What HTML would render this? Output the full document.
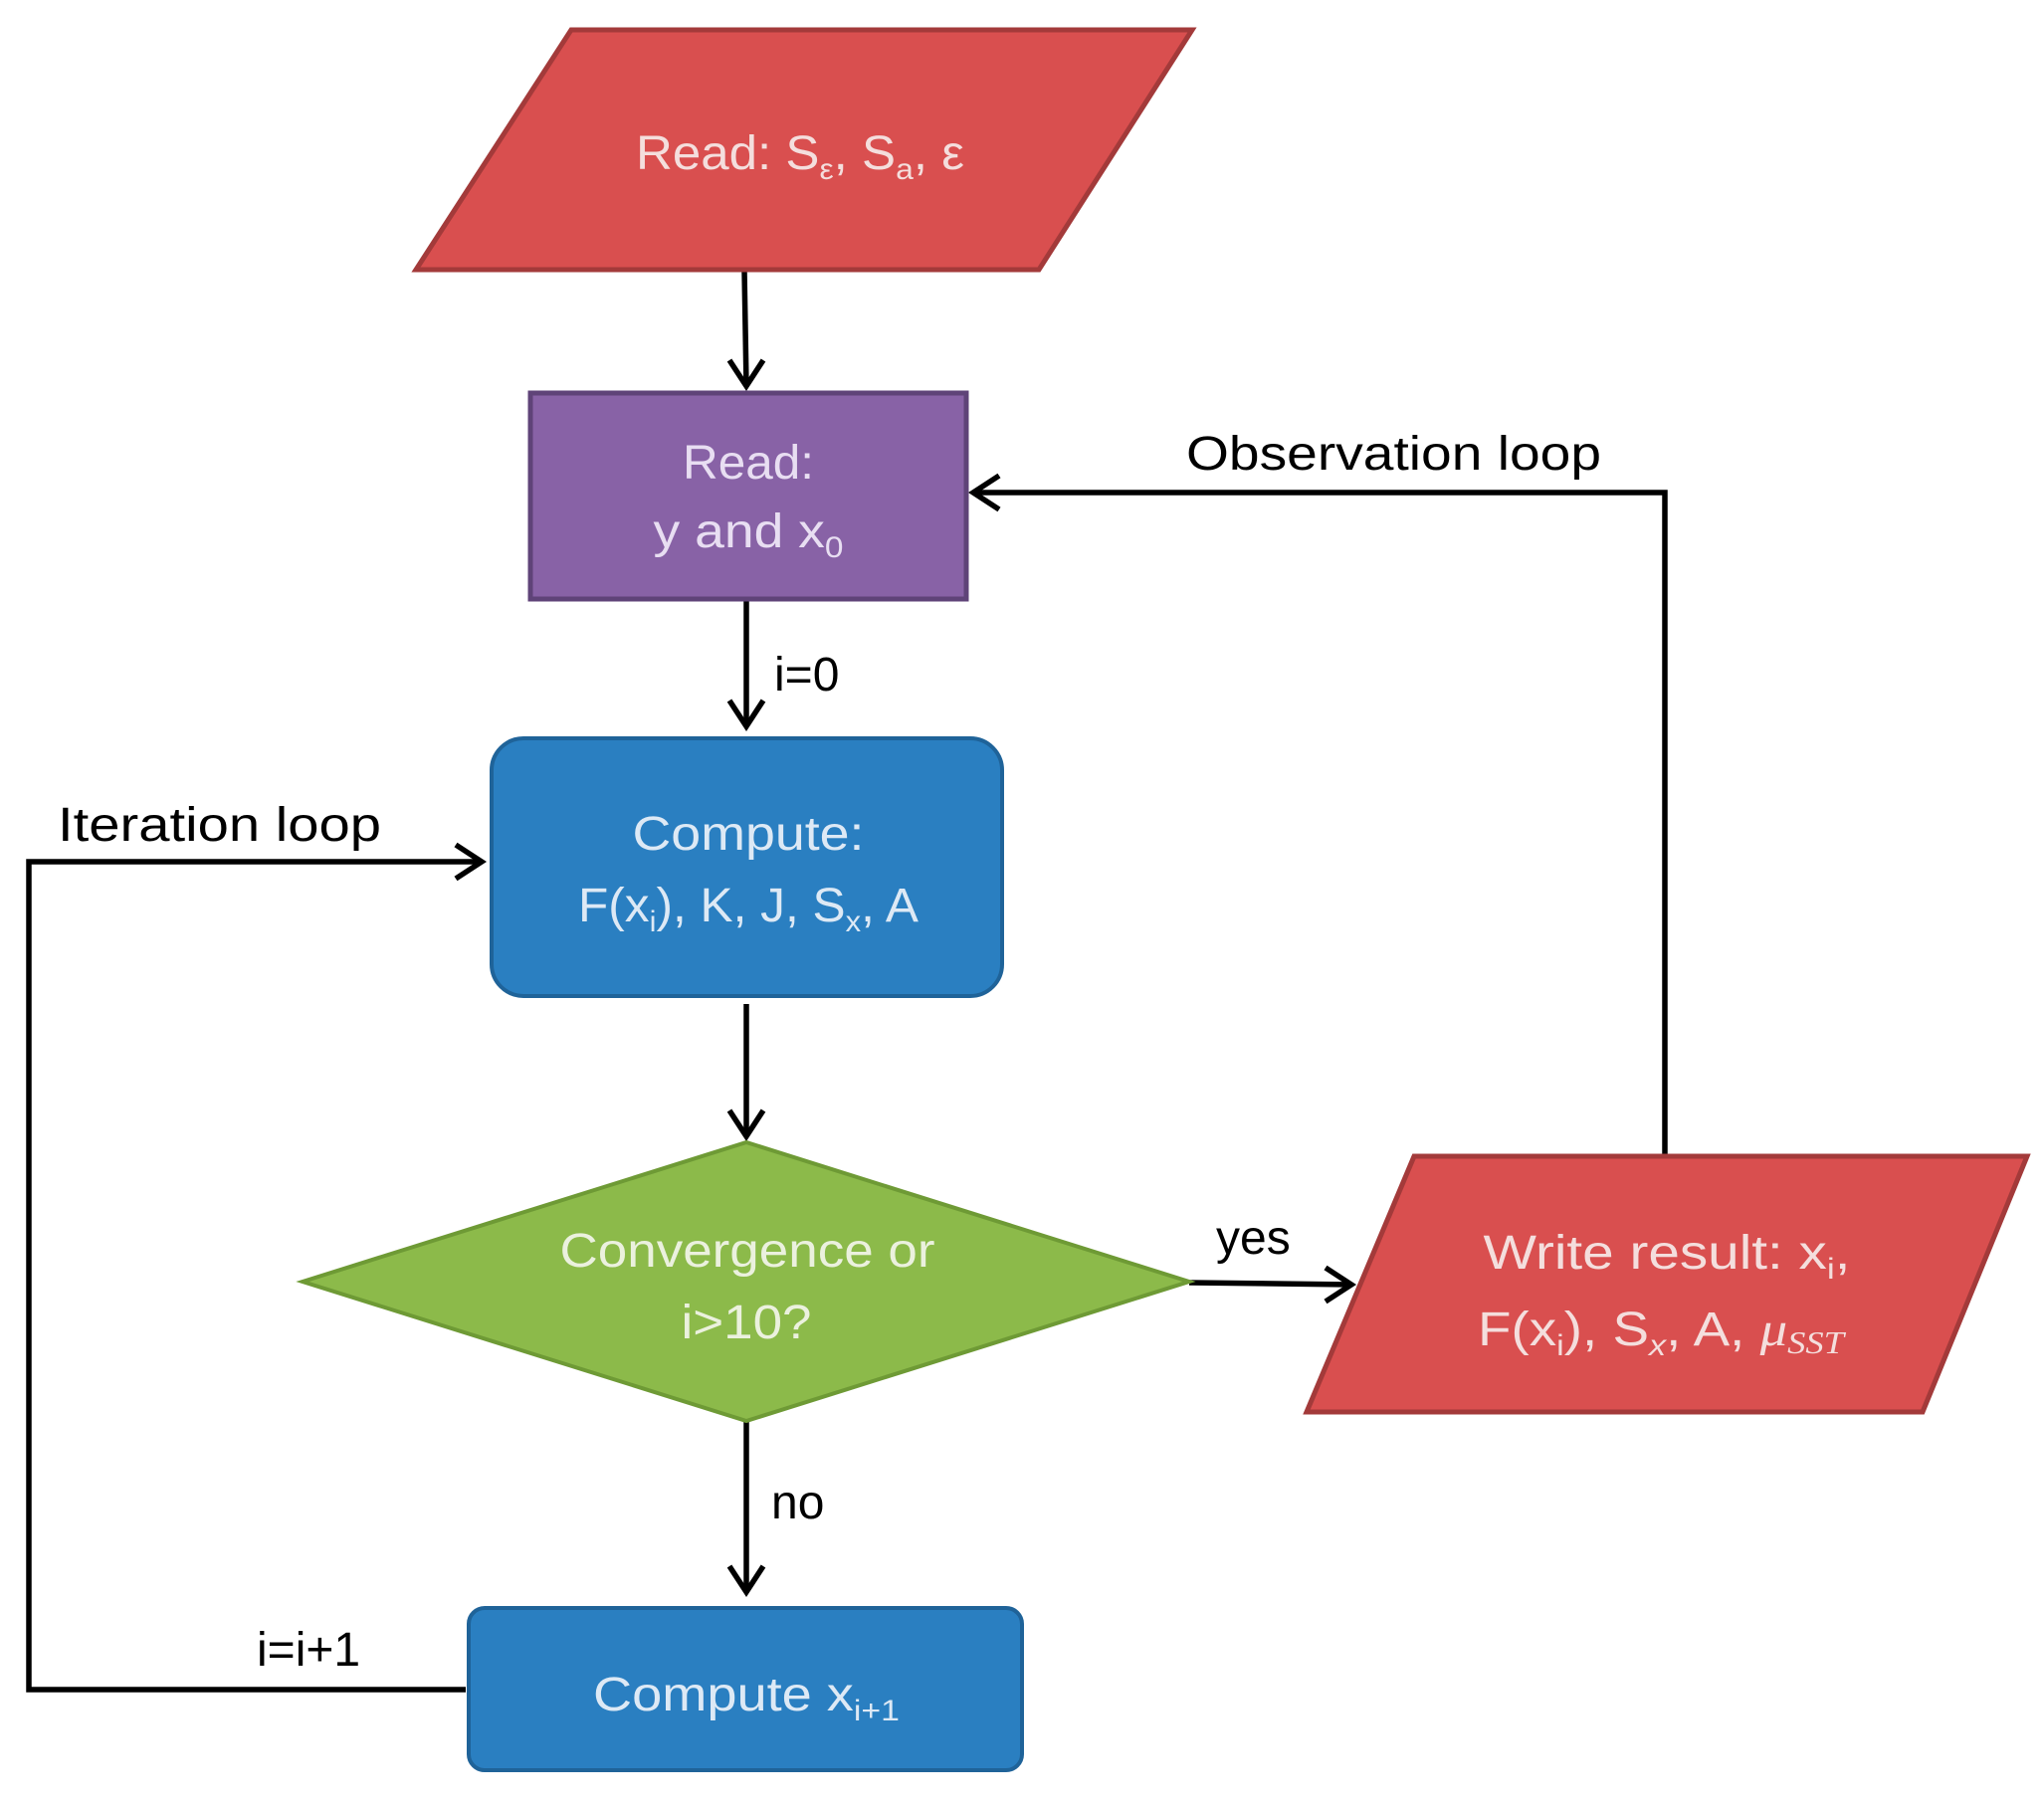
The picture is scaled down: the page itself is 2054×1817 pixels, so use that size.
<!DOCTYPE html>
<html><head><meta charset="utf-8"><style>
html,body{margin:0;padding:0;background:#fff;}
svg{display:block;}
text{font-family:"Liberation Sans",sans-serif;}
</style></head><body>
<svg width="2054" height="1817" viewBox="0 0 2054 1817" xmlns="http://www.w3.org/2000/svg">
<defs>
<marker id="ah" markerWidth="12" markerHeight="12" refX="10" refY="6" orient="auto" markerUnits="userSpaceOnUse" viewBox="0 0 12 12">
</marker>
</defs>
<g fill="none" stroke="#000" stroke-width="5.5" stroke-linejoin="miter">
<!-- top to purple -->
<line x1="748" y1="272" x2="750" y2="388"/>
<polyline points="733,362 750,388 767,362"/>
<!-- purple to blue -->
<line x1="750" y1="603" x2="750" y2="730"/>
<polyline points="733,704 750,730 767,704"/>
<!-- blue to diamond -->
<line x1="750" y1="1009" x2="750" y2="1142"/>
<polyline points="733,1116 750,1142 767,1116"/>
<!-- diamond to bottom -->
<line x1="750" y1="1428" x2="750" y2="1600"/>
<polyline points="733,1574 750,1600 767,1574"/>
<!-- yes -->
<line x1="1195" y1="1289" x2="1358" y2="1291"/>
<polyline points="1332,1274 1358,1291 1332,1308"/>
<!-- observation loop -->
<polyline points="1673,1162 1673,495 978,495"/>
<polyline points="1004,478 978,495 1004,512"/>
<!-- iteration loop -->
<polyline points="468,1698 29,1698 29,866 484,866"/>
<polyline points="458,849 484,866 458,883"/>
</g>
<!-- top parallelogram -->
<polygon points="574,30 1198,30 1044,271 418,271" fill="#d94f4f" stroke="#a33a3a" stroke-width="5"/>
<!-- purple -->
<rect x="533" y="395" width="438" height="207" fill="#8862a6" stroke="#5f4378" stroke-width="5"/>
<!-- blue compute -->
<rect x="494" y="742" width="513" height="259" rx="32" fill="#2a7fc1" stroke="#1f6399" stroke-width="4"/>
<!-- diamond -->
<polygon points="304,1288 750,1148 1195,1288 750,1428" fill="#8cba4a" stroke="#6e9a35" stroke-width="4"/>
<!-- write parallelogram -->
<polygon points="1421,1162 2037,1162 1932,1419 1313,1419" fill="#d94f4f" stroke="#a33a3a" stroke-width="5"/>
<!-- bottom compute -->
<rect x="471" y="1616" width="556" height="163" rx="16" fill="#2a7fc1" stroke="#1f6399" stroke-width="4"/>

<!-- box text -->
<g font-size="48" text-anchor="middle">
<text x="804" y="170" fill="#f4dedd" textLength="330" lengthAdjust="spacingAndGlyphs">Read: S<tspan font-size="30" dy="10">ε</tspan><tspan dy="-10">, S</tspan><tspan font-size="30" dy="10">a</tspan><tspan dy="-10">, ε</tspan></text>
<text x="752" y="481" fill="#e8def2" textLength="132" lengthAdjust="spacingAndGlyphs">Read:</text>
<text x="752" y="550" fill="#e8def2" textLength="191" lengthAdjust="spacingAndGlyphs">y and x<tspan font-size="30" dy="10">0</tspan></text>
<text x="752" y="854" fill="#dde9f5" textLength="233" lengthAdjust="spacingAndGlyphs">Compute:</text>
<text x="752" y="926" fill="#dde9f5" textLength="342" lengthAdjust="spacingAndGlyphs">F(x<tspan font-size="30" dy="10">i</tspan><tspan dy="-10">), K, J, S</tspan><tspan font-size="30" dy="10">x</tspan><tspan dy="-10">, A</tspan></text>
<text x="751" y="1273" fill="#ebf1de" textLength="377" lengthAdjust="spacingAndGlyphs">Convergence  or</text>
<text x="750" y="1345" fill="#ebf1de" textLength="131" lengthAdjust="spacingAndGlyphs">i&gt;10?</text>
<text x="1675" y="1275" fill="#f4dedd" textLength="369" lengthAdjust="spacingAndGlyphs">Write result: x<tspan font-size="30" dy="10">i</tspan><tspan dy="-10">,</tspan></text>
<text x="1669" y="1352" fill="#f4dedd" textLength="368" lengthAdjust="spacingAndGlyphs">F(x<tspan font-size="30" dy="10">i</tspan><tspan dy="-10">), S</tspan><tspan font-size="30" dy="10" font-style="italic">x</tspan><tspan dy="-10">, A, </tspan><tspan font-style="italic" font-family="Liberation Serif,serif">μ</tspan><tspan font-size="32" dy="8" font-style="italic" font-family="Liberation Serif,serif">SST</tspan></text>
<text x="750" y="1719" fill="#dde9f5" textLength="308" lengthAdjust="spacingAndGlyphs">Compute x<tspan font-size="30" dy="10">i+1</tspan></text>
</g>
<!-- labels -->
<g font-size="48" fill="#000">
<text x="1192" y="472" textLength="417" lengthAdjust="spacingAndGlyphs">Observation  loop</text>
<text x="58" y="845" textLength="325" lengthAdjust="spacingAndGlyphs">Iteration loop</text>
<text x="778" y="694">i=0</text>
<text x="1222" y="1260">yes</text>
<text x="775" y="1526">no</text>
<text x="258" y="1674">i=i+1</text>
</g>
</svg>
</body></html>
